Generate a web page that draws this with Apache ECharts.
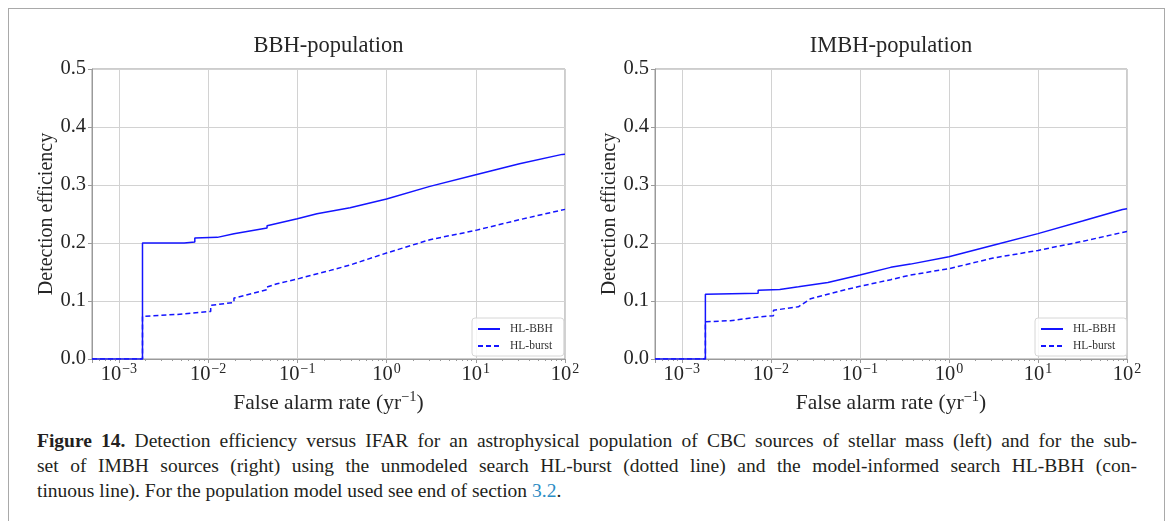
<!DOCTYPE html>
<html>
<head>
<meta charset="utf-8">
<script src="https://cdn.jsdelivr.net/npm/echarts@6/dist/echarts.min.js"></script>
<style>
html,body{margin:0;padding:0;background:#fff;width:1166px;height:521px;overflow:hidden;}
#frame{position:absolute;left:8px;top:8px;width:1157px;height:540px;border:1.5px solid #a9a9a9;box-sizing:border-box;}
#chart{position:absolute;left:0;top:0;width:1166px;height:420px;}
#caption{position:absolute;left:37px;top:428px;width:1100px;font-family:"Liberation Serif",serif;font-size:19.5px;line-height:25px;color:#231f20;}
#caption .ln{white-space:nowrap;}
#caption a{color:#2b8cc4;text-decoration:none;}
</style>
</head>
<body>
<div id="frame"></div>
<div id="chart"></div>
<div id="caption">
<div class="ln j"><b>Figure 14.</b> Detection efficiency versus IFAR for an astrophysical population of CBC sources of stellar mass (left) and for the sub-</div>
<div class="ln j">set of IMBH sources (right) using the unmodeled search HL-burst (dotted line) and the model-informed search HL-BBH (con-</div>
<div class="ln">tinuous line). For the population model used see end of section <a>3.2</a>.</div>
</div>
<script>
// ---------- data ----------
const xMin = 5e-4, xMax = 100;
const yTicks = [0, 0.1, 0.2, 0.3, 0.4, 0.5];
const decadeTicks = [1e-3, 1e-2, 1e-1, 1, 10, 100];
const minorMult = [2, 3, 4, 5, 6, 7, 8, 9];

// BBH population, HL-BBH (solid)
const bbhSolidFar = [5e-4, 1.84e-3, 1.84e-3, 5.4e-3, 5.4e-3, 7.1e-3, 7.1e-3, 0.0127, 0.0195, 0.0458, 0.0458, 0.1, 0.166, 0.39, 1, 3.06, 10, 30.9, 93, 100];
const bbhSolidEff = [0, 0, 0.2, 0.2, 0.2017, 0.2017, 0.2085, 0.2097, 0.216, 0.2259, 0.2298, 0.2419, 0.2505, 0.2609, 0.2757, 0.2976, 0.3177, 0.3366, 0.3528, 0.353];
// BBH population, HL-burst (dashed)
const bbhBurstFar = [5e-4, 1.84e-3, 1.84e-3, 4.5e-3, 0.0107, 0.0107, 0.0195, 0.0195, 0.0458, 0.0458, 0.0593, 0.1, 0.234, 0.39, 1, 3.06, 10, 30.9, 100];
const bbhBurstEff = [0, 0, 0.0734, 0.0769, 0.082, 0.0924, 0.0976, 0.105, 0.1195, 0.124, 0.1298, 0.1379, 0.1528, 0.162, 0.1827, 0.2057, 0.2218, 0.2402, 0.258];
// IMBH population, HL-BBH (solid)
const imbhSolidFar = [5e-4, 1.84e-3, 1.84e-3, 7.2e-3, 7.2e-3, 0.0126, 0.0204, 0.0437, 0.1, 0.222, 0.37, 1, 3.14, 10, 31.6, 89, 100];
const imbhSolidEff = [0, 0, 0.1115, 0.1132, 0.1184, 0.12, 0.1245, 0.132, 0.1447, 0.158, 0.1636, 0.1762, 0.196, 0.2162, 0.238, 0.2578, 0.259];
// IMBH population, HL-burst (dashed)
const imbhBurstFar = [5e-4, 1.84e-3, 1.84e-3, 3.5e-3, 3.5e-3, 7.2e-3, 0.0107, 0.0107, 0.017, 0.0204, 0.028, 0.0617, 0.1, 0.222, 0.37, 1, 3.14, 10, 31.6, 100];
const imbhBurstEff = [0, 0, 0.0643, 0.066, 0.0672, 0.0724, 0.0747, 0.0839, 0.0885, 0.09, 0.104, 0.1178, 0.1253, 0.1368, 0.1448, 0.1557, 0.1741, 0.1872, 0.2028, 0.22];

const titles = ['BBH-population', 'IMBH-population'];
const seriesNames = ['HL-BBH', 'HL-burst'];

// ---------- chart ----------
const FONT = '"Liberation Serif", "DejaVu Serif", serif';
const TXT = '#262626';
const zip = (xs, ys) => xs.map((x, i) => [x, ys[i]]);
const minorTicks = [];
decadeTicks.concat([1e-4]).forEach(d => minorMult.forEach(m => { const v = d * m; if (v > xMin && v < xMax) minorTicks.push(v); }));

const grids = [
  {left: 92, top: 69, width: 473, height: 290},
  {left: 655, top: 69, width: 472, height: 290}
];

function xFmt(v) {
  const e = Math.log10(v);
  const r = Math.round(e);
  if (Math.abs(e - r) > 1e-6) return '';
  const s = r < 0 ? '\u2212' + (-r) : String(r);
  return '{b|10}{s|' + s + '}';
}

const xAxes = [], yAxes = [];
grids.forEach((g, i) => {
  xAxes.push({
    type: 'log', logBase: 10, min: xMin, max: xMax, gridIndex: i,
    axisLine: {show: true, lineStyle: {color: '#9a9a9a', width: 1}},
    axisTick: {show: true, length: 4, lineStyle: {color: '#9a9a9a'}},
    splitLine: {show: true, lineStyle: {color: '#d2d2d2', width: 1}},
    axisLabel: {
      formatter: xFmt, margin: 3, color: TXT, fontFamily: FONT,
      rich: {
        b: {fontSize: 20.5, fontFamily: FONT, color: TXT, lineHeight: 23, verticalAlign: 'bottom'},
        s: {fontSize: 14, fontFamily: FONT, color: TXT, lineHeight: 23, verticalAlign: 'top', padding: [0, 0, 0, 1]}
      }
    },
    name: '{n|False alarm rate (yr}{s|\u22121}{n|)}',
    nameLocation: 'middle', nameGap: 25,
    nameTextStyle: {
      rich: {
        n: {fontSize: 21.5, fontFamily: FONT, color: TXT, lineHeight: 24, verticalAlign: 'bottom'},
        s: {fontSize: 14.5, fontFamily: FONT, color: TXT, lineHeight: 24, verticalAlign: 'top'}
      }
    }
  });
  xAxes.push({
    type: 'log', logBase: 10, min: xMin, max: xMax, gridIndex: i, position: 'bottom',
    axisLine: {show: false},
    axisLabel: {show: false},
    splitLine: {show: false},
    axisTick: {show: true, length: 2, customValues: minorTicks, lineStyle: {color: '#9a9a9a'}}
  });
  yAxes.push({
    type: 'value', min: 0, max: 0.5, interval: 0.1, gridIndex: i,
    axisLine: {show: true, lineStyle: {color: '#9a9a9a', width: 1}},
    axisTick: {show: true, length: 4, lineStyle: {color: '#9a9a9a'}},
    splitLine: {show: true, lineStyle: {color: '#d2d2d2', width: 1}},
    axisLabel: {formatter: v => v.toFixed(1), fontSize: 20.5, fontFamily: FONT, color: TXT, margin: 6},
    name: 'Detection efficiency', nameLocation: 'middle', nameGap: 35,
    nameTextStyle: {fontSize: 20, fontFamily: FONT, color: TXT}
  });
});

const lineCol = '#1414ff';
function mk(name, xi, data, dashed) {
  return {
    type: 'line', name: name, xAxisIndex: xi, yAxisIndex: xi / 2, data: data,
    symbol: 'none', showSymbol: false, silent: true, z: dashed ? 2 : 3,
    lineStyle: {color: lineCol, width: 1.5, type: dashed ? [5, 3] : 'solid'},
    itemStyle: {color: lineCol}
  };
}

const legendBase = {
  orient: 'vertical', itemWidth: 22, itemHeight: 10, itemGap: 5,
  itemStyle: {color: 'rgba(0,0,0,0)', borderWidth: 0, opacity: 0},
  padding: [5, 11, 4, 5], borderColor: '#d6d6d6', borderWidth: 1, borderRadius: 3,
  backgroundColor: 'rgba(255,255,255,0.85)', selectedMode: false,
  textStyle: {fontSize: 11.5, fontFamily: FONT, color: '#333', padding: [0, 0, 0, 5]},
  data: seriesNames
};

const chart = echarts.init(document.getElementById('chart'), null, {renderer: 'canvas'});
chart.setOption({
  animation: false,
  grid: grids.map(g => Object.assign({show: true, borderColor: '#9a9a9a', borderWidth: 1, backgroundColor: 'transparent'}, g)),
  xAxis: xAxes,
  yAxis: yAxes,
  legend: [
    Object.assign({left: 472, top: 318}, legendBase),
    Object.assign({left: 1035, top: 318}, legendBase)
  ],
  graphic: titles.map((t, i) => ({
    type: 'text', x: grids[i].left + grids[i].width / 2, y: 46,
    style: {text: t, textAlign: 'center', textVerticalAlign: 'middle', fontSize: 22.5, fontFamily: FONT, fill: TXT}
  })),
  series: [
    mk(seriesNames[1], 0, zip(bbhBurstFar, bbhBurstEff), true),
    mk(seriesNames[0], 0, zip(bbhSolidFar, bbhSolidEff), false),
    mk(seriesNames[1], 2, zip(imbhBurstFar, imbhBurstEff), true),
    mk(seriesNames[0], 2, zip(imbhSolidFar, imbhSolidEff), false)
  ]
});

// justify caption lines by adjusting word spacing
document.querySelectorAll('#caption .ln.j').forEach(el => {
  const span = document.createElement('span');
  while (el.firstChild) span.appendChild(el.firstChild);
  el.appendChild(span);
  const w = span.getBoundingClientRect().width;
  const n = (span.textContent.match(/ /g) || []).length;
  if (n > 0) el.style.wordSpacing = ((1100 - w) / n) + 'px';
});
</script>
</body>
</html>
